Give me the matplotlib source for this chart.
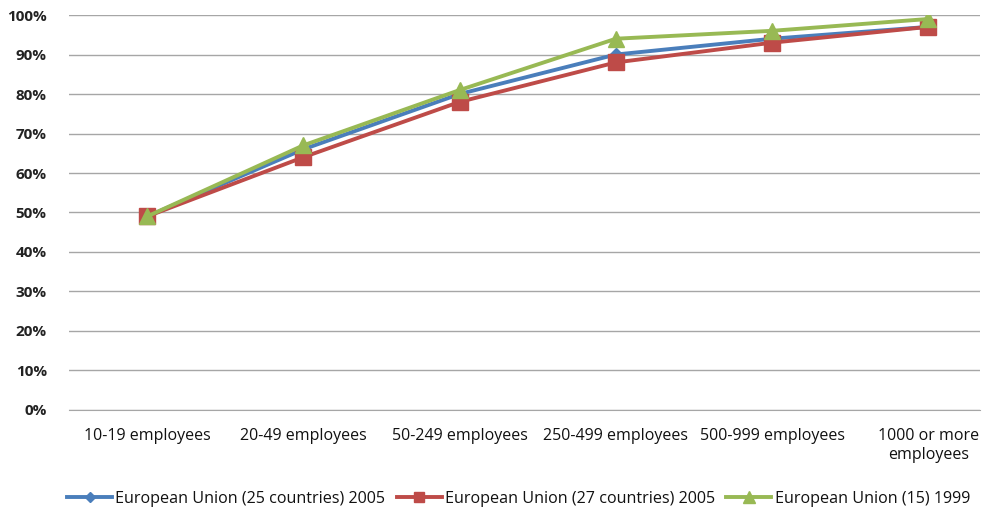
import matplotlib
matplotlib.use("Agg")
import matplotlib.pyplot as plt
from matplotlib import font_manager
from matplotlib.ticker import PercentFormatter, MultipleLocator

# Enterprise size classes and share values (fraction of enterprises)
categories = ["10-19 employees", "20-49 employees", "50-249 employees",
              "250-499 employees", "500-999 employees", "1000 or more\nemployees"]
eu25_2005 = [0.49, 0.66, 0.80, 0.90, 0.94, 0.97]
eu27_2005 = [0.49, 0.64, 0.78, 0.88, 0.93, 0.97]
eu15_1999 = [0.49, 0.67, 0.81, 0.94, 0.96, 0.99]
series_labels = ["European Union (25 countries) 2005",
                 "European Union (27 countries) 2005",
                 "European Union (15) 1999"]

installed = {f.name for f in font_manager.fontManager.ttflist}
family = "Liberation Sans Narrow" if "Liberation Sans Narrow" in installed else "Open Sans"
plt.rcParams["font.family"] = [family, "DejaVu Sans"]

fig = plt.figure(figsize=(9.84, 5.11), dpi=100)
ax = fig.add_axes([0.0701, 0.1977, 0.9258, 0.7729])

x = list(range(len(categories)))
ax.plot(x, eu25_2005, color="#4A7EBB", lw=2.8, marker="D", ms=7,
        label=series_labels[0], zorder=3)
ax.plot(x, eu27_2005, color="#BE4B48", lw=2.8, marker="s", ms=11,
        label=series_labels[1], zorder=4)
ax.plot(x, eu15_1999, color="#98B954", lw=2.8, marker="^", ms=12,
        label=series_labels[2], zorder=5)

ax.set_ylim(0, 1)
ax.set_xlim(-0.5, 5.33)
ax.yaxis.set_major_locator(MultipleLocator(0.1))
ax.yaxis.set_major_formatter(PercentFormatter(1.0, decimals=0))
ax.grid(axis="y", color="#A6A6A6", lw=1.0)
ax.set_axisbelow(True)
for s in ["top", "right", "left"]:
    ax.spines[s].set_visible(False)
ax.spines["bottom"].set_color("#A6A6A6")
ax.set_xticks(x)
ax.set_xticklabels(categories, fontsize=11.5, color="#111111", linespacing=1.25)
ax.tick_params(axis="x", length=0, pad=13)
ax.tick_params(axis="y", length=0, pad=16, labelsize=11, labelcolor="#222222")
for t in ax.get_yticklabels():
    t.set_fontweight("bold")

fig.legend(loc="lower center", bbox_to_anchor=(0.527, -0.02), ncol=3,
           frameon=False, fontsize=11.6, handlelength=2.8, columnspacing=0.7,
           handletextpad=0.2, labelcolor="#111111", markerscale=0.7)

fig.savefig("out.png", dpi=100)
